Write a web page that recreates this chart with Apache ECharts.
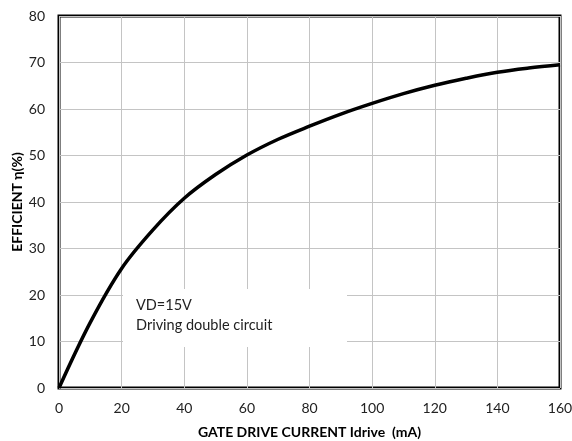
<!DOCTYPE html>
<html>
<head>
  <meta charset="utf-8"/>
  <script src="https://cdn.jsdelivr.net/npm/echarts@6/dist/echarts.min.js"></script>
  <style>body{margin:0;background:#fff;}</style>
</head>
<body>
  <div id="chartmain" style="width:572px; height:441px;"></div>
  <script type="text/javascript">
    // 数据：驱动电流 (mA) 与效率 (%)
    var current = [0, 10, 20, 30, 40, 50, 60, 70, 80, 90, 100, 110, 120, 130, 140, 150, 160];
    var efficiency = [0, 14.1, 25.7, 34.0, 40.8, 45.9, 50.1, 53.5, 56.3, 58.9, 61.2, 63.3, 65.1, 66.6, 67.9, 68.8, 69.5];
    var xTicks = [0, 20, 40, 60, 80, 100, 120, 140, 160];
    var yTicks = [0, 10, 20, 30, 40, 50, 60, 70, 80];

    var font = 'Lato, "Open Sans", sans-serif';
    var pts = [];
    for (var i = 0; i < current.length; i++) {
      pts.push([current[i], efficiency[i]]);
    }

    var option = {
      animation: false,
      backgroundColor: '#fff',
      grid: {
        left: 59, right: 12, top: 16, bottom: 53,
        outerBoundsMode: 'none',
        containLabel: false,
        show: true,
        borderColor: '#000',
        borderWidth: 3,
        backgroundColor: 'transparent'
      },
      xAxis: {
        type: 'value',
        min: xTicks[0],
        max: xTicks[xTicks.length - 1],
        interval: 20,
        name: 'GATE DRIVE CURRENT Idrive  (mA)',
        nameLocation: 'middle',
        nameGap: 37,
        nameMoveOverlap: false,
        nameTextStyle: { fontFamily: font, fontWeight: 'bold', fontSize: 14, color: '#000' },
        axisLine: { show: false },
        axisTick: { show: false },
        axisLabel: { fontFamily: font, fontSize: 14, color: '#222', margin: 13 },
        splitLine: { show: true, lineStyle: { color: '#c4c4c4', width: 1 } }
      },
      yAxis: {
        type: 'value',
        min: yTicks[0],
        max: yTicks[yTicks.length - 1],
        interval: 10,
        name: 'EFFICIENT η(%)',
        nameLocation: 'middle',
        nameGap: 35,
        nameMoveOverlap: false,
        nameTextStyle: { fontFamily: font, fontWeight: 'bold', fontSize: 14, color: '#000' },
        axisLine: { show: false },
        axisTick: { show: false },
        axisLabel: { fontFamily: font, fontSize: 14, color: '#222', margin: 14 },
        splitLine: { show: true, lineStyle: { color: '#c4c4c4', width: 1 } }
      },
      graphic: [
        {
          type: 'rect', z: 5,
          shape: { x: 123, y: 289, width: 224, height: 58 },
          style: { fill: '#fff' }
        },
        {
          type: 'text', z: 6, left: 136, top: 298,
          style: { text: 'VD=15V', font: '14.5px ' + font, fill: '#222' }
        },
        {
          type: 'text', z: 6, left: 136, top: 318,
          style: { text: 'Driving double circuit', font: '14.5px ' + font, fill: '#222' }
        }
      ],
      series: [
        {
          type: 'line',
          data: pts,
          smooth: 0.35,
          symbol: 'none',
          z: 10,
          lineStyle: { color: '#000', width: 3.5 }
        }
      ]
    };

    var myChart = echarts.init(document.getElementById('chartmain'));
    myChart.setOption(option);
  </script>
</body>
</html>
